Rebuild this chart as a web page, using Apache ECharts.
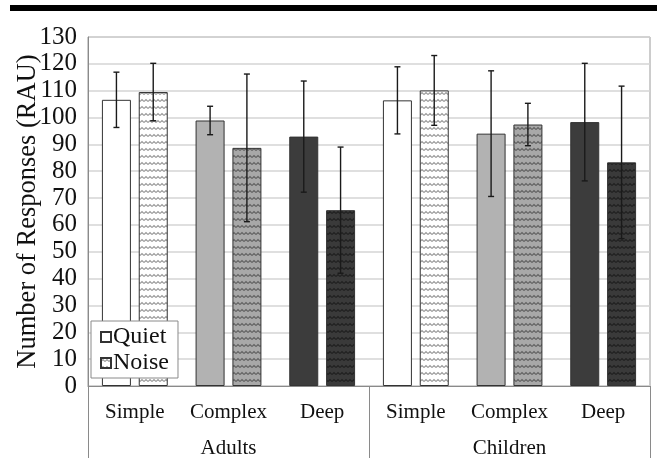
<!DOCTYPE html>
<html><head><meta charset="utf-8">
<script src="https://cdn.jsdelivr.net/npm/echarts@6/dist/echarts.min.js"></script>
<style>html,body{margin:0;padding:0;background:#fff}#c{width:657px;height:471px}</style>
</head><body><div id="c"></div>
<script>
const categories = ['Simple','Complex','Deep','Simple','Complex','Deep'];
const groups = ['Adults','Children'];
const seriesNames = ['Quiet','Noise'];
const quietMeans = [106.6, 98.9, 92.9, 106.4, 94.0, 98.3];
const quietErrors = [10.3, 5.3, 20.7, 12.5, 23.4, 21.9];
const noiseMeans = [109.5, 88.7, 65.5, 110.1, 97.4, 83.3];
const noiseErrors = [10.7, 27.5, 23.5, 13.0, 7.9, 28.4];
const yTicks = [0,10,20,30,40,50,60,70,80,90,100,110,120,130];

const FONT = 'Liberation Serif';
const quietColors = ['#ffffff','#b2b2b2','#3c3c3c'];
function pattern(bg, fg){
  const c = document.createElement('canvas');
  c.width = 4; c.height = 7;
  const ctx = c.getContext('2d');
  ctx.fillStyle = bg; ctx.fillRect(0,0,4,7);
  ctx.strokeStyle = fg; ctx.lineWidth = 1.1;
  ctx.beginPath(); ctx.moveTo(0,3.5); ctx.lineTo(2,1.5); ctx.lineTo(4,3.5); ctx.stroke();
  return {image: c, repeat: 'repeat'};
}
const noisePatterns = [pattern('#ffffff','#9a9a9a'), pattern('#a8a8a8','#626262'), pattern('#3a3a3a','#202020')];

const BW = 29, OFF = 18.4;
function errSeries(means, errs, dx){
  return {
    type: 'custom', xAxisIndex: 0, yAxisIndex: 0, z: 10, silent: true,
    data: means.map((m,i)=>[i, m - errs[i], m + errs[i]]),
    renderItem: function(params, api){
      const lo = api.coord([api.value(0), api.value(1)]);
      const hi = api.coord([api.value(0), api.value(2)]);
      const x = lo[0] + dx, w = 3;
      const st = {stroke: '#1a1a1a', lineWidth: 1.4};
      return {type: 'group', children: [
        {type:'line', shape:{x1:x, y1:lo[1], x2:x, y2:hi[1]}, style: st},
        {type:'line', shape:{x1:x-w, y1:lo[1], x2:x+w, y2:lo[1]}, style: st},
        {type:'line', shape:{x1:x-w, y1:hi[1], x2:x+w, y2:hi[1]}, style: st}
      ]};
    }
  };
}

const chart = echarts.init(document.getElementById('c'), null, {renderer:'canvas'});
chart.setOption({
  animation: false,
  backgroundColor: '#fff',
  textStyle: {fontFamily: FONT},
  graphic: [{type:'rect', shape:{x:10, y:5, width:647, height:6}, style:{fill:'#000'}}],
  grid: {left: 88, right: 7, top: 37, bottom: 85, show: true, borderColor: '#9a9a9a', borderWidth: 1,
         backgroundColor: 'transparent', containLabel: false, outerBoundsMode: 'none'},
  legend: {
    data: seriesNames, orient: 'vertical', left: 91, top: 321, width: 88,
    itemWidth: 10, itemHeight: 10, itemGap: 2, icon: 'rect',
    backgroundColor: '#fff', borderColor: '#8a8a8a', borderWidth: 1, padding: [4, 9, 3, 9],
    textStyle: {fontFamily: FONT, fontSize: 24, color: '#111', padding: [0,0,0,-3]}
  },
  xAxis: [
    {type: 'category', data: categories, gridIndex: 0,
     axisLine: {show: true, lineStyle: {color: '#8a8a8a', width: 1}},
     axisTick: {show: false},
     axisLabel: {fontFamily: FONT, fontSize: 21, color: '#111', margin: 16, interval: 0}},
    {type: 'category', data: groups, gridIndex: 0, position: 'bottom',
     axisLine: {show: false},
     axisTick: {show: true, length: 72, lineStyle: {color: '#8a8a8a', width: 1}},
     axisLabel: {fontFamily: FONT, fontSize: 21, color: '#111', margin: 52, interval: 0}}
  ],
  yAxis: {
    type: 'value', min: 0, max: 130, interval: 10,
    name: 'Number of Responses (RAU)', nameLocation: 'middle', nameGap: 46, nameMoveOverlap: false,
    nameTextStyle: {fontFamily: FONT, fontSize: 26.5, color: '#111'},
    axisLine: {show: true, lineStyle: {color: '#8a8a8a'}},
    axisTick: {show: false},
    axisLabel: {fontFamily: FONT, fontSize: 25, color: '#111', margin: 11,
      formatter: v => yTicks.indexOf(v) >= 0 ? String(v) : ''},
    splitLine: {show: true, lineStyle: {color: '#d4d4d4', width: 1.5}}
  },
  series: [
    {name: seriesNames[0], type: 'bar', xAxisIndex: 0, barWidth: BW, barGap: '27%',
     itemStyle: {color: '#ffffff', borderColor: '#333', borderWidth: 1},
     data: quietMeans.map((v,i)=>({value: v, itemStyle: {color: quietColors[i%3]}}))},
    {name: seriesNames[1], type: 'bar', xAxisIndex: 0, barWidth: BW, barGap: '27%',
     itemStyle: {color: noisePatterns[0], borderColor: '#333', borderWidth: 1},
     data: noiseMeans.map((v,i)=>({value: v, itemStyle: {color: noisePatterns[i%3]}}))},
    errSeries(quietMeans, quietErrors, -OFF),
    errSeries(noiseMeans, noiseErrors, OFF)
  ]
});
</script></body></html>
